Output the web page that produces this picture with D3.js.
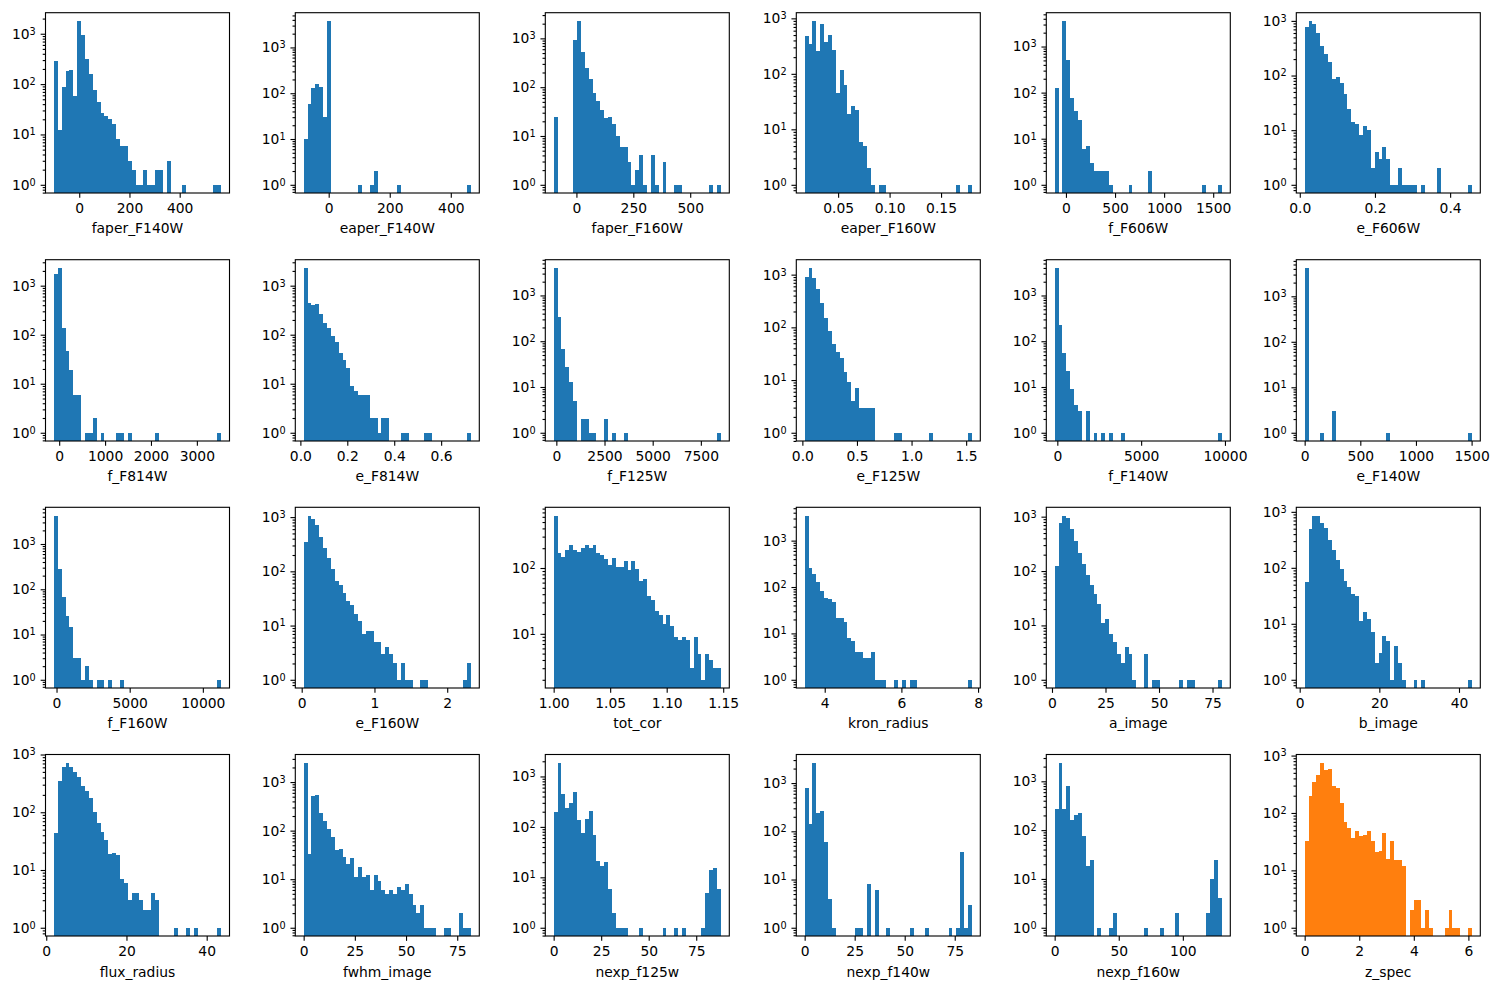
<!DOCTYPE html>
<html>
<head>
<meta charset="utf-8">
<script src="https://d3js.org/d3.v7.min.js"></script>
<style>
  html, body { margin: 0; padding: 0; background: #fff; }
  svg { display: block; }
  text { font-family: "DejaVu Sans", sans-serif; fill: #000; }
</style>
</head>
<body>
<div id="chart"></div>
<script>
// Column names, one histogram per column
const names = [
  "faper_F140W", "eaper_F140W", "faper_F160W", "eaper_F160W", "f_F606W", "e_F606W",
  "f_F814W", "e_F814W", "f_F125W", "e_F125W", "f_F140W", "e_F140W",
  "f_F160W", "e_F160W", "tot_cor", "kron_radius", "a_image", "b_image",
  "flux_radius", "fwhm_image", "nexp_f125w", "nexp_f140w", "nexp_f160w", "z_spec",
];

// First and last bin edge of each histogram
const binRanges = [
  [-101, 565], [-82, 466], [-100, 635], [0.0175, 0.18], [-115, 1589], [0.013, 0.458],
  [-116, 3529], [0.014, 0.727], [-139, 8542], [0.021, 1.553], [-159, 9820], [0, 1503],
  [-182, 11250], [0.027, 2.326], [1.0, 1.148], [3.477, 7.84], [1.25, 79.4], [1.25, 43.25],
  [1.9, 43.6], [0, 81.7], [0, 88], [0, 83.6], [0, 130.5], [0, 6.13],
];

// x tick values
const xTicks = [
  [0, 200, 400], [0, 200, 400], [0, 250, 500], [0.05, 0.1, 0.15], [0, 500, 1000, 1500], [0, 0.2, 0.4],
  [0, 1000, 2000, 3000], [0, 0.2, 0.4, 0.6], [0, 2500, 5000, 7500], [0, 0.5, 1, 1.5], [0, 5000, 10000], [0, 500, 1000, 1500],
  [0, 5000, 10000], [0, 1, 2], [1, 1.05, 1.1, 1.15], [4, 6, 8], [0, 25, 50, 75], [0, 20, 40],
  [0, 20, 40], [0, 25, 50, 75], [0, 25, 50, 75], [0, 25, 50, 75], [0, 50, 100], [0, 2, 4, 6],
];

// x tick label text
const xTickDecimals = [
  0, 0, 0, 2, 0, 1,
  0, 1, 0, 1, 0, 0,
  0, 0, 2, 0, 0, 0,
  0, 0, 0, 0, 0, 0,
];

// Bin counts (43 bins each)
const faper_F140W = [290,12,88,180,190,58,1800,930,315,160,78,44,27,23,20,16,8,6,6,3,2,1,1,2,1,1,2,2,0,3,0,0,0,1,0,0,0,0,0,0,0,1,1];
const eaper_F140W = [10,58,128,160,140,30,3800,0,0,0,0,0,0,0,1,0,0,1,2,0,0,0,0,0,1,0,0,0,0,0,0,0,0,0,0,0,0,0,0,0,0,0,1];
const faper_F160W = [24,0,0,0,0,940,2280,530,250,150,75,51,34,23,24,18,10,6,6,3,1,2,4,1,0,4,1,0,3,0,0,1,1,0,0,0,0,0,0,0,1,0,1];
const eaper_F160W = [490,350,900,260,800,370,510,265,45,115,62,19,26,22,6,5,2,1,0,1,1,0,0,0,0,0,0,0,0,0,0,0,0,0,0,0,0,0,0,1,0,0,1];
const f_F606W = [125,0,3600,500,75,40,26,6,7,3,2,2,2,2,1,0,0,0,0,1,0,0,0,0,2,0,0,0,0,0,0,0,0,0,0,0,0,0,1,0,0,0,1];
const e_F606W = [780,1000,860,590,350,250,175,88,95,72,46,24,14,13,8,12,10,2,4,3,5,3,1,1,2,1,1,1,1,0,1,0,0,0,2,0,0,0,0,0,0,0,1];
const f_F814W = [1720,2300,135,46,19,6,6,0,1,1,2,0,1,0,0,0,1,1,0,1,0,0,0,0,0,0,1,0,0,0,0,0,0,0,0,0,0,0,0,0,0,0,1];
const e_F814W = [2300,440,400,420,263,172,136,93,70,42,30,21,9,7,6,6,6,2,2,1,2,2,0,0,0,1,1,0,0,0,0,1,1,0,0,0,0,0,0,0,0,0,1];
const f_F125W = [3990,340,67,28,13,5,0,2,2,1,1,0,0,2,0,1,0,0,1,0,0,0,0,0,0,0,0,0,0,0,0,0,0,0,0,0,0,0,0,0,0,0,1];
const e_F125W = [900,1340,860,530,290,150,85,48,34,26,14,9,4,7,3,3,3,3,0,0,0,0,0,1,1,0,0,0,0,0,0,0,1,0,0,0,0,0,0,0,0,0,1];
const f_F140W = [4000,226,55,22,9,4,3,0,3,0,1,0,1,0,1,0,0,1,0,0,0,0,0,0,0,0,0,0,0,0,0,0,0,0,0,0,0,0,0,0,0,0,1];
const e_F140W = [4200,0,0,0,1,0,0,3,0,0,0,0,0,0,0,0,0,0,0,0,0,1,0,0,0,0,0,0,0,0,0,0,0,0,0,0,0,0,0,0,0,0,1];
const f_F160W = [4260,285,67,26,15,3,3,1,2,1,0,1,1,0,1,0,0,1,0,0,0,0,0,0,0,0,0,0,0,0,0,0,0,0,0,0,0,0,0,0,0,0,1];
const e_F160W = [343,1070,940,705,425,266,174,110,66,56,40,28,24,16,12,7,8,8,5,5,3,4,3,2,1,2,1,1,0,0,1,1,0,0,0,0,0,0,0,0,0,1,2];
const tot_cor = [628,172,145,185,220,190,178,205,220,205,220,172,155,135,113,140,102,102,126,92,126,96,63,67,37,33,22,19,14,19,13,9,8,9,8,3,9,5,2,5,4,3,3];
const kron_radius = [3480,255,190,128,82,58,55,48,22,22,18,8,7,4,4,3,3,4,1,1,1,0,0,1,0,1,0,1,1,0,0,0,0,0,0,0,0,0,0,0,0,0,1];
const a_image = [123,755,1050,930,590,355,214,134,85,55,38,25,11,13,7,5,3,2,4,3,1,0,0,3,0,1,1,0,0,0,0,0,1,0,1,1,0,0,0,0,0,0,1];
const b_image = [56,485,860,860,645,505,310,205,137,95,58,45,34,32,11,16,12,7,2,3,6,5,1,4,2,1,0,0,1,0,1,0,0,0,0,0,0,0,0,0,0,0,1];
const flux_radius = [44,345,620,720,600,505,400,280,230,175,100,65,45,33,19,20,18,7,6,3,4,4,3,2,2,4,3,0,0,0,0,1,0,0,1,0,1,0,0,0,0,0,1];
const fwhm_image = [2500,33,520,550,235,160,110,75,39,41,28,21,27,11,18,11,12,6,12,9,6,5,6,5,7,6,8,5,3,2,3,1,1,1,0,0,1,1,0,0,2,1,1];
const nexp_f125w = [200,1870,455,240,300,500,138,77,145,210,70,21,17,20,6,2,1,1,1,0,0,0,1,0,0,0,0,0,1,0,0,1,0,1,0,0,0,0,1,5,14,15,6];
const nexp_f140w = [800,145,2640,243,270,61,4,1,0,0,0,0,0,1,1,0,8,0,6,0,0,1,0,0,0,0,0,1,0,0,0,1,0,0,0,0,0,1,0,1,37,1,3];
const nexp_f160w = [275,2400,275,820,165,205,225,75,18,25,0,1,0,0,1,2,0,0,0,0,0,0,0,1,0,0,0,1,0,0,0,2,0,0,0,0,0,0,0,2,10,25,4];
const z_spec = [32,200,350,465,750,565,590,300,275,150,70,54,36,49,39,42,49,32,21,22,44,16,32,15,15,12,0,2,3,3,1,2,1,0,0,0,1,2,1,1,0,0,1];

const counts = [
  faper_F140W, eaper_F140W, faper_F160W, eaper_F160W, f_F606W, e_F606W,
  f_F814W, e_F814W, f_F125W, e_F125W, f_F140W, e_F140W,
  f_F160W, e_F160W, tot_cor, kron_radius, a_image, b_image,
  flux_radius, fwhm_image, nexp_f125w, nexp_f140w, nexp_f160w, z_spec,
];

// Page layout
const pageWidth = 1498, pageHeight = 989;
const colLefts = [45.5, 295.3, 545.3, 796.3, 1046.3, 1296.3];
const rowTops = [12.7, 259.7, 507.3, 754.5];
const rowBottoms = [193, 441, 688, 936];
const panelWidth = 184;
const majorTick = 4.86, minorTick = 2.78, tickPad = 4.86, fontSize = 13.89;
const blue = "#1f77b4", orange = "#ff7f0e";

const svg = d3
  .select("#chart")
  .append("svg")
  .attr("width", pageWidth)
  .attr("height", pageHeight);

names.forEach((name, i) => {
  const col = i % 6, row = Math.floor(i / 6);
  const panelHeight = rowBottoms[row] - rowTops[row];
  const values = counts[i];
  const [binLo, binHi] = binRanges[i];
  const binWidth = (binHi - binLo) / values.length;

  // Same 5% autoscale margins as the original plots
  const xPad = (binHi - binLo) * 0.05;
  const x = d3
    .scaleLinear()
    .domain([binLo - xPad, binHi + xPad])
    .range([0, panelWidth]);

  const positive = values.filter((v) => v > 0);
  const logLo = Math.log10(d3.min(positive)), logHi = Math.log10(d3.max(positive));
  const logPad = (logHi - logLo) * 0.05;
  const yLo = Math.pow(10, logLo - logPad), yHi = Math.pow(10, logHi + logPad);
  const y = d3.scaleLog().domain([yLo, yHi]).range([panelHeight, 0]);

  const major = [], minor = [];
  for (let d = Math.floor(Math.log10(yLo)); d <= Math.ceil(Math.log10(yHi)); d++) {
    for (let m = 1; m < 10; m++) {
      const v = m * Math.pow(10, d);
      if (v < yLo || v > yHi) continue;
      if (m === 1) major.push(v);
      else minor.push(v);
    }
  }

  const g = svg
    .append("g")
    .attr("transform", `translate(${colLefts[col]},${rowTops[row]})`);

  // Bars
  g.selectAll("rect.bar")
    .data(values.map((v, k) => ({ v, k })).filter((d) => d.v > 0))
    .enter()
    .append("rect")
    .attr("class", "bar")
    .attr("x", (d) => x(binLo + d.k * binWidth))
    .attr("width", (d) => x(binLo + (d.k + 1) * binWidth) - x(binLo + d.k * binWidth))
    .attr("y", (d) => y(d.v))
    .attr("height", (d) => panelHeight - y(d.v))
    .attr("shape-rendering", "crispEdges")
    .style("fill", name === "z_spec" ? orange : blue);

  // x axis
  const decimals = xTickDecimals[i];
  const xAxis = g
    .append("g")
    .attr("transform", `translate(0,${panelHeight})`)
    .call(
      d3
        .axisBottom(x)
        .tickValues(xTicks[i])
        .tickSize(majorTick)
        .tickPadding(tickPad + 0.8)
        .tickFormat((d) => d.toFixed(decimals))
    );

  // y axis, minor ticks first
  const yMinor = g
    .append("g")
    .call(d3.axisLeft(y).tickValues(minor).tickSize(minorTick).tickFormat(""));
  const yAxis = g
    .append("g")
    .call(
      d3
        .axisLeft(y)
        .tickValues(major)
        .tickSize(majorTick)
        .tickPadding(tickPad)
        .tickFormat("")
    );

  // Labels of the form 10 with a raised exponent
  yAxis.selectAll(".tick text").each(function (d) {
    const t = d3.select(this);
    t.append("tspan").text("10");
    t.append("tspan")
      .attr("dy", "-0.42em")
      .style("font-size", "9.7px")
      .text(Math.round(Math.log10(d)));
  });

  for (const axis of [xAxis, yMinor, yAxis]) {
    axis.select(".domain").remove();
    axis.selectAll(".tick line").style("stroke", "#000").style("stroke-width", 1.11);
    axis
      .selectAll(".tick text")
      .style("font-family", '"DejaVu Sans", sans-serif')
      .style("font-size", fontSize + "px");
  }
  yAxis.selectAll(".tick text tspan:last-child").style("font-size", "9.7px");

  // Frame
  g.append("rect")
    .attr("width", panelWidth)
    .attr("height", panelHeight)
    .style("fill", "none")
    .style("stroke", "#000")
    .style("stroke-width", 1.11);

  // Column name under the axis
  g.append("text")
    .attr("x", panelWidth / 2)
    .attr("y", panelHeight + 40.5)
    .attr("text-anchor", "middle")
    .style("font-size", fontSize + "px")
    .text(name);
});
</script>
</body>
</html>
